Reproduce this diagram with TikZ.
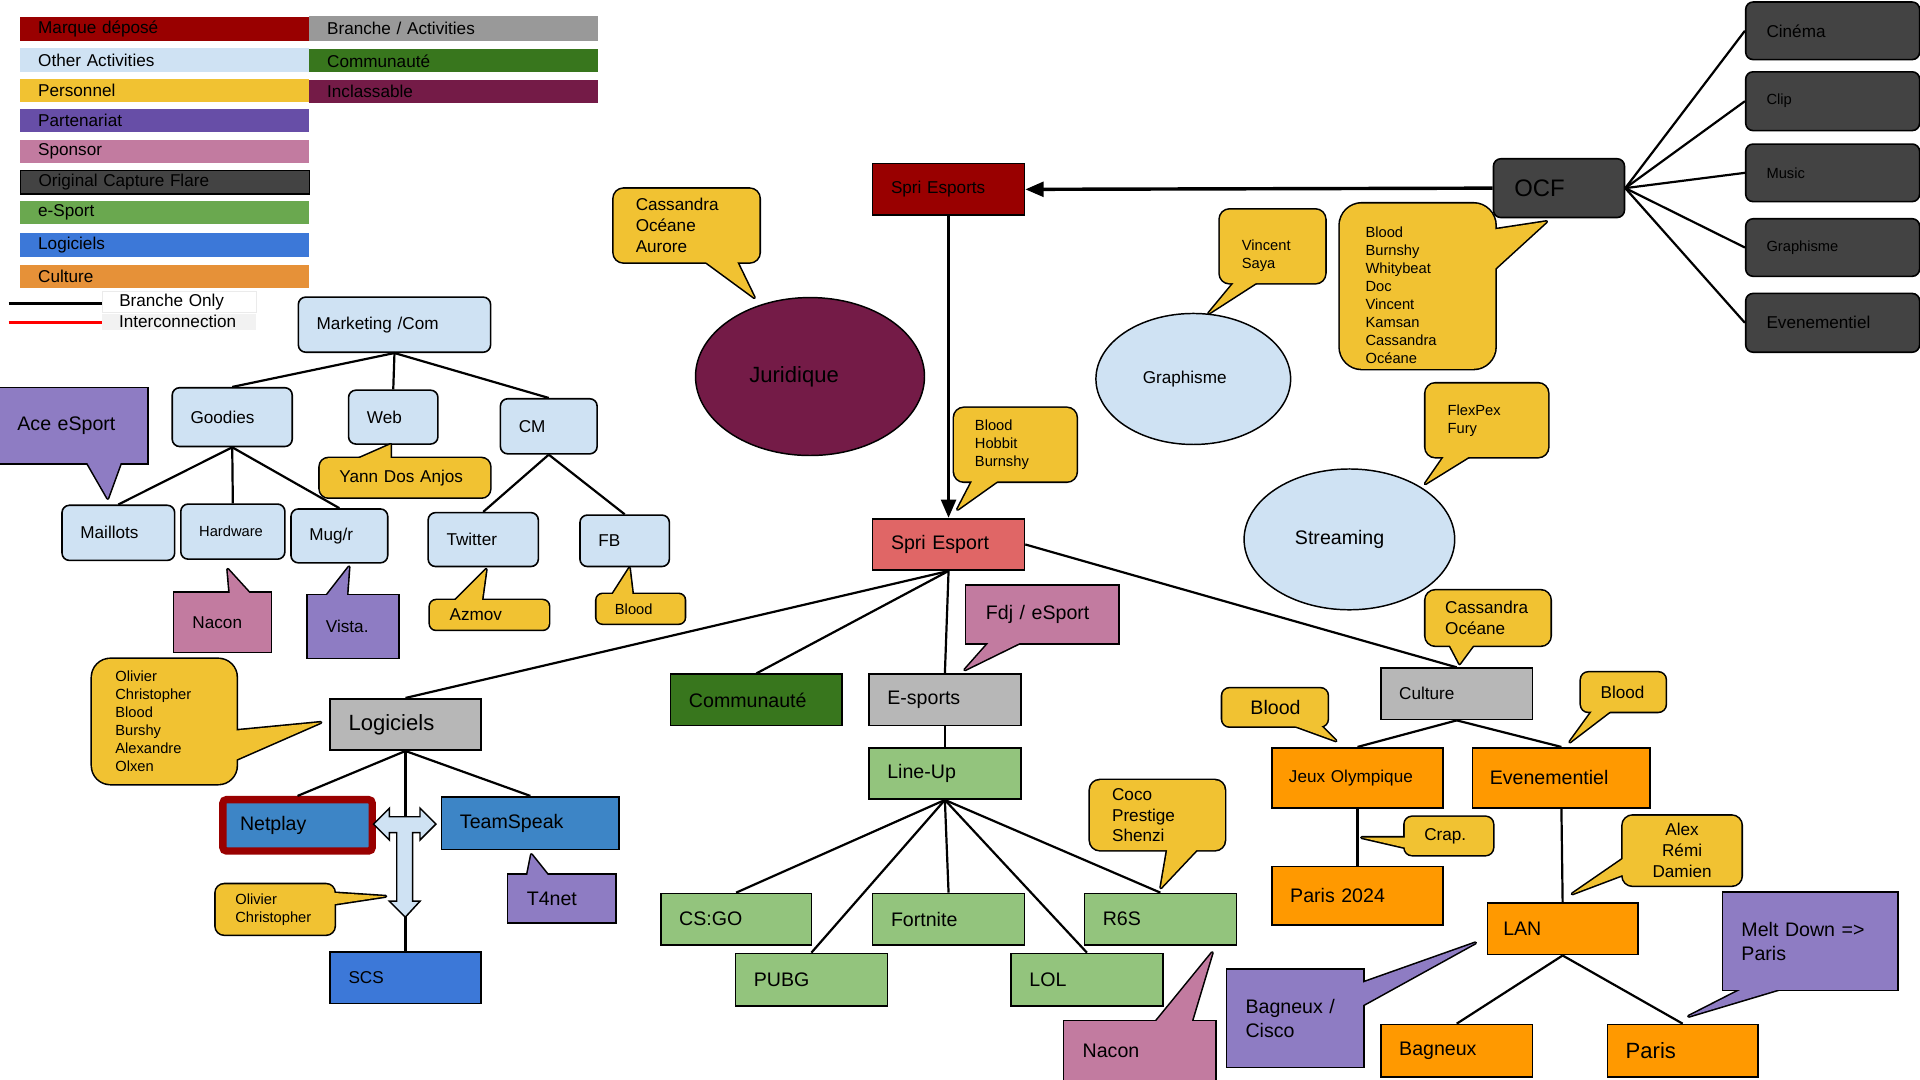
\documentclass[tikz,border=0pt]{standalone}
\usepackage{fontspec}
\setmainfont{Liberation Sans}
\usetikzlibrary{shapes.geometric,arrows.meta}

\definecolor{mdred}{HTML}{990000}
\definecolor{otherbl}{HTML}{CFE2F3}
\definecolor{persy}{HTML}{F1C232}
\definecolor{partlg}{HTML}{674EA7}
\definecolor{part}{HTML}{8E7CC3}
\definecolor{spons}{HTML}{C27BA0}
\definecolor{ocfgr}{HTML}{434343}
\definecolor{esplg}{HTML}{6AA84F}
\definecolor{esp}{HTML}{93C47D}
\definecolor{logilg}{HTML}{3C78D8}
\definecolor{logi}{HTML}{3D85C6}
\definecolor{cultlg}{HTML}{E69138}
\definecolor{cult}{HTML}{FF9900}
\definecolor{brlg}{HTML}{999999}
\definecolor{br}{HTML}{B7B7B7}
\definecolor{comm}{HTML}{38761D}
\definecolor{incl}{HTML}{741B47}
\definecolor{spri}{HTML}{E06666}

\newcommand{\bulle}[6]{%
  \filldraw[fill=#2, line width=2.6pt, line join=round] #5 -- cycle;
  \node[note, fill=#2, #3] (#1) at #4 {#6};
  \fill[#2] #5 -- cycle;}

\begin{document}
\begin{tikzpicture}[x=1pt, y=-1pt,
  f12/.style={font=\fontsize{12}{14.7}\selectfont},
  f14/.style={font=\fontsize{14}{17}\selectfont},
  f16/.style={font=\fontsize{16}{20}\selectfont},
  f18/.style={font=\fontsize{18}{22}\selectfont},
  f19/.style={font=\fontsize{19.5}{23}\selectfont},
  box/.style={draw, line width=1.3pt, anchor=north west, inner xsep=15pt, inner ysep=0pt, align=left, f14},
  rbox/.style={box, rounded corners=6pt},
  leg/.style={anchor=north west, inner xsep=15pt, inner ysep=0pt, minimum height=19pt, text width=206pt, align=left, f14},
  note/.style={anchor=north west, inner xsep=15pt, inner ysep=0pt, align=left, f14, preaction={draw, line width=2.6pt}},
  bulb/.style={ellipse, draw, line width=1.2pt, f14},
  link/.style={line width=1.8pt},
  fleche/.style={line width=2.8pt, -{Triangle[length=15pt,width=12pt]}}]

\path[use as bounding box, fill=white] (0,0) rectangle (1568,882);

\node[leg, fill=mdred] (lgMarque) at (16,14) {Marque déposé};
\node[leg, fill=otherbl, minimum height=20pt] (lgOther) at (16,39) {Other Activities};
\node[leg, fill=persy] (lgPerso) at (16,64) {Personnel};
\node[leg, fill=partlg] (lgPart) at (16,89) {Partenariat};
\node[leg, fill=spons] (lgSpons) at (16,114) {Sponsor};
\node[leg, fill=ocfgr, draw, line width=1pt] (lgOcf) at (16,139) {Original Capture Flare};
\node[leg, fill=esplg] (lgEsport) at (16,164) {e-Sport};
\node[leg, fill=logilg, minimum height=20pt] (lgLogi) at (16,190) {Logiciels};
\node[leg, fill=cultlg] (lgCult) at (16,216) {Culture};
\node[leg, fill=brlg, minimum height=20pt] (lgBranche) at (252,13) {Branche / Activities};
\node[leg, fill=comm] (lgComm) at (252,40) {Communauté};
\node[leg, fill=incl] (lgIncl) at (252,65) {Inclassable};

\node[leg, text width=98pt, inner xsep=14pt, minimum height=17pt, fill=white, draw=black!8, line width=0.8pt] (lgOnly) at (83,238) {Branche Only};
\node[leg, text width=98pt, inner xsep=14pt, minimum height=13pt, fill=black!5] (lgInter) at (83,256) {Interconnection};
\coordinate (lgB) at (7,248);
\coordinate (lgR) at (7,263);
\draw[line width=2.5pt] (lgB) -- (lgB -| lgOnly.west);
\draw[line width=2.5pt, red] (lgR) -- (lgR -| lgInter.west);

\node[rbox, fill=otherbl, text width=127pt, minimum height=45pt] (mkt) at (243,242) {Marketing /Com};
\node[rbox, fill=otherbl, text width=68pt, minimum height=48pt] (goodies) at (140,316) {Goodies};
\node[rbox, fill=otherbl, text width=43pt, minimum height=44pt] (web) at (284,318) {Web};
\node[rbox, fill=otherbl, text width=49pt, minimum height=45pt] (cm) at (408,325) {CM};
\node[rbox, fill=otherbl, text width=62pt, minimum height=45pt] (maillots) at (50,412) {Maillots};
\node[rbox, fill=otherbl, text width=55pt, minimum height=45pt, f12] (hardware) at (147,411) {Hardware};
\node[rbox, fill=otherbl, text width=49pt, minimum height=44pt] (mugr) at (237,415) {Mug/r};
\node[rbox, fill=otherbl, text width=60pt, minimum height=44pt] (twitter) at (349,418) {Twitter};
\node[rbox, fill=otherbl, text width=43pt, minimum height=42pt] (fb) at (473,420) {FB};

\node[box, fill=br, text width=93pt, minimum height=42pt, f18] (logiciels) at (269,570) {Logiciels};
\node[box, fill=logi, draw=mdred, line width=6pt, rounded corners=3pt, inner xsep=14pt, text width=94pt, minimum height=42pt, f16] (netplay) at (179,650) {Netplay};
\node[box, fill=logi, text width=115pt, minimum height=43pt, f16] (teamspeak) at (360,650) {TeamSpeak};
\node[box, fill=logilg, text width=93pt, minimum height=42pt] (scs) at (269,777) {SCS};

\node[box, fill=mdred, text width=94pt, minimum height=42pt] (spriesports) at (712,133) {Spri Esports};
\node[box, fill=spri, text width=94pt, minimum height=42pt, f16] (spriesport) at (712,423) {Spri Esport};

\node[rbox, fill=ocfgr, inner xsep=17pt, text width=73pt, minimum height=48pt, f19] (ocf) at (1219,129) {OCF};
\node[rbox, fill=ocfgr, inner xsep=17pt, text width=108pt, minimum height=47pt] (cinema) at (1425,1) {Cinéma};
\node[rbox, fill=ocfgr, inner xsep=17pt, text width=108pt, minimum height=48pt, f12] (clip) at (1425,58) {Clip};
\node[rbox, fill=ocfgr, inner xsep=17pt, text width=108pt, minimum height=47pt, f12] (music) at (1425,117) {Music};
\node[rbox, fill=ocfgr, inner xsep=17pt, text width=108pt, minimum height=47pt, f12] (graphocf) at (1425,178) {Graphisme};
\node[rbox, fill=ocfgr, inner xsep=17pt, text width=108pt, minimum height=48pt] (eventocf) at (1425,239) {Evenementiel};

\node[box, fill=comm, text width=110pt, minimum height=42pt, f16] (communaute) at (547,550) {Communauté};
\node[box, fill=br, text width=94pt, minimum height=42pt, f16] (esports) at (709,550) {E-sports};
\node[box, fill=esp, text width=94pt, minimum height=42pt, f16] (lineup) at (709,610) {Line-Up};
\node[box, fill=esp, text width=93pt, minimum height=42pt, f16] (csgo) at (539,729) {CS:GO};
\node[box, fill=esp, text width=94pt, minimum height=42pt, f16] (fortnite) at (712,729) {Fortnite};
\node[box, fill=esp, text width=94pt, minimum height=42pt, f16] (r6s) at (885,729) {R6S};
\node[box, fill=esp, text width=94pt, minimum height=43pt, f16] (pubg) at (600,778) {PUBG};
\node[box, fill=esp, text width=94pt, minimum height=43pt, f16] (lol) at (825,778) {LOL};

\node[box, fill=br, text width=94pt, minimum height=42pt] (culture) at (1127,545) {Culture};
\node[box, fill=cult, inner xsep=14pt, text width=112pt, minimum height=49pt] (jeux) at (1038,610) {Jeux Olympique};
\node[box, fill=cult, inner xsep=14pt, text width=117pt, minimum height=49pt, f16] (evenement) at (1202,610) {Evenementiel};
\node[box, fill=cult, text width=110pt, minimum height=48pt, f16] (paris24) at (1038,707) {Paris 2024};
\node[box, fill=cult, inner xsep=13pt, text width=97pt, minimum height=42pt, f16] (lan) at (1214,737) {LAN};
\node[box, fill=cult, text width=94pt, minimum height=43pt, f16] (bagneux) at (1127,836) {Bagneux};
\node[box, fill=cult, text width=93pt, minimum height=43pt, f18] (paris) at (1312,836) {Paris};

\node[bulb, fill=incl, minimum width=187pt, minimum height=129pt, f18] (juridique) at (661.5,307.5) {Juridique\rule{26pt}{0pt}};
\node[bulb, fill=otherbl, minimum width=159pt, minimum height=107pt] (graphisme) at (974.5,309.5) {Graphisme\rule{14pt}{0pt}};
\node[bulb, fill=otherbl, minimum width=172pt, minimum height=115pt, f16] (streaming) at (1102,440.5) {Streaming\rule{16pt}{0pt}};

\draw[link] (mkt.south) -- (goodies.north);
\draw[link] (mkt.south) -- (web.north);
\draw[link] (mkt.south) -- (cm.north);
\foreach \g in {maillots,hardware,mugr} \draw[link] (goodies.south) -- (\g.north);
\draw[link] (cm.south) -- (twitter.north);
\draw[link] (cm.south) -- (fb.north);
\draw[link] (logiciels.south) -- (netplay.north);
\draw[link] (logiciels.south) -- (teamspeak.north);
\draw[link] (logiciels.south) -- (scs.north);
\draw[fleche] (spriesports.south) -- (spriesport.north);
\draw[fleche] (ocf.west) -- (spriesports.east);
\foreach \o in {cinema,clip,music,graphocf,eventocf} \draw[link] (ocf.east) -- (\o.west);
\draw[link] (spriesport.south) -- (logiciels.north);
\draw[link] (spriesport.south) -- (communaute.north);
\draw[link] (spriesport.south) -- (esports.north);
\draw[link] (spriesport.east) -- (culture.north);
\draw[link] (esports.south) -- (lineup.north);
\foreach \g in {csgo,pubg,fortnite,lol,r6s} \draw[link] (lineup.south) -- (\g.north);
\draw[link] (culture.south) -- (jeux.north);
\draw[link] (culture.south) -- (evenement.north);
\draw[link] (jeux.south) -- (paris24.north);
\draw[link] (evenement.south) -- (lan.north);
\draw[link] (lan.south) -- (bagneux.north);
\draw[link] (lan.south) -- (paris.north);

\draw[fill=otherbl, line width=1.2pt] (305,673) -- (318,660) -- (318,667) -- (343,667) -- (343,660) -- (356,673) -- (343,686) -- (343,680) -- (337,680) -- (337,736) -- (343,736) -- (331,749) -- (318,736) -- (324,736) -- (324,680) -- (318,680) -- (318,686) -- cycle;

\bulle{ace}{part}{f16, inner xsep=14pt, text width=92pt, minimum height=61pt}{(0,317)}{(69,374) -- (88,407) -- (100,374)}{Ace eSport}
\bulle{yann}{persy}{rounded corners=7pt, inner xsep=16pt, text width=107pt, minimum height=32pt}{(261,374)}{(285,378) -- (319,363) -- (319,378)}{Yann Dos Anjos}
\bulle{nacona}{spons}{text width=49pt, minimum height=48pt}{(142,484)}{(188,488) -- (186,465) -- (207,488)}{Nacon}
\bulle{vista}{part}{text width=44pt, minimum height=51pt}{(251,486)}{(264,490) -- (285,463) -- (283,490)}{Vista.}
\bulle{azmov}{persy}{rounded corners=5pt, inner xsep=16pt, text width=65pt, minimum height=24pt}{(351,490)}{(368,494) -- (397,465) -- (393,494)}{Azmov}
\bulle{bloodfb}{persy}{rounded corners=5pt, f12, text width=42pt, minimum height=24pt}{(487,485)}{(498,489) -- (514,464) -- (517,489)}{Blood}
\bulle{olivlist}{persy}{rounded corners=15pt, f12, inner xsep=19pt, text width=80pt, minimum height=102pt}{(75,538)}{(189,597) -- (262,590) -- (189,622)}{Olivier\\Christopher\\Blood\\Burshy\\Alexandre\\Olxen}
\bulle{olivscs}{persy}{rounded corners=7pt, f12, inner xsep=16pt, text width=65pt, minimum height=41pt}{(176,722)}{(269,729) -- (315,732) -- (269,739)}{Olivier\\Christopher}
\bulle{tfournet}{part}{f16, text width=57pt, minimum height=39pt}{(415,714)}{(430,718) -- (434,698) -- (450,718)}{T4net}
\bulle{cassjur}{persy}{rounded corners=8pt, inner xsep=18pt, text width=83pt, minimum height=60pt}{(501,154)}{(571,210) -- (616,243) -- (600,210)}{Cassandra\\Océane\\Aurore}
\bulle{bhb}{persy}{rounded corners=8pt, f12, inner xsep=17pt, text width=66pt, minimum height=60pt}{(779,333)}{(820,389) -- (782,416) -- (796,389)}{Blood\\Hobbit\\Burnshy}
\bulle{vsaya}{persy}{rounded corners=8pt, f12, inner xsep=18pt, text width=50pt, minimum height=60pt}{(996,171)}{(1011,227) -- (987,256) -- (1032,227)}{\rule{0pt}{24pt}Vincent\\Saya}
\bulle{ocflist}{persy}{rounded corners=18pt, f12, inner xsep=21pt, text width=85pt, minimum height=135pt}{(1094,166)}{(1217,188) -- (1263,181) -- (1217,223)}{\rule{0pt}{23pt}Blood\\Burnshy\\Whitybeat\\Doc\\Vincent\\Kamsan\\Cassandra\\Océane}
\bulle{flex}{persy}{rounded corners=8pt, f12, inner xsep=18pt, text width=64pt, minimum height=60pt}{(1164,313)}{(1182,369) -- (1164,395) -- (1206,369)}{FlexPex\\Fury}
\bulle{casscult}{persy}{rounded corners=8pt, inner xsep=16pt, text width=70pt, minimum height=45pt}{(1164,482)}{(1182,523) -- (1192,542) -- (1206,523)}{Cassandra\\Océane}
\bulle{fdj}{spons}{f16, inner xsep=16pt, text width=92pt, minimum height=47pt}{(789,478)}{(811,521) -- (788,547) -- (841,521)}{Fdj / eSport}
\bulle{coco}{persy}{rounded corners=8pt, inner xsep=18pt, text width=74pt, minimum height=57pt}{(890,637)}{(954,690) -- (948,725) -- (981,690)}{Coco\\Prestige\\Shenzi}
\bulle{naconb}{spons}{f16, text width=93pt, minimum height=48pt}{(869,834)}{(941,838) -- (990,778) -- (972,838)}{Nacon}
\bulle{bloodjo}{persy}{rounded corners=6pt, f16, inner xsep=23pt, text width=40pt, minimum height=31pt}{(998,562)}{(1047,589) -- (1091,605) -- (1075,589)}{Blood}
\bulle{bloodev}{persy}{rounded corners=6pt, inner xsep=16pt, text width=37pt, minimum height=32pt}{(1291,549)}{(1303,577) -- (1282,606) -- (1320,577)}{Blood}
\bulle{crap}{persy}{rounded corners=6pt, inner xsep=16pt, text width=40pt, minimum height=31pt}{(1147,667)}{(1151,684) -- (1112,684) -- (1151,693)}{Crap.}
\bulle{alex}{persy}{rounded corners=8pt, align=center, inner xsep=10pt, text width=77pt, minimum height=57pt}{(1325,666)}{(1329,699) -- (1284,730) -- (1329,713)}{Alex\\Rémi\\Damien}
\bulle{melt}{part}{f16, text width=112pt, minimum height=79pt}{(1407,729)}{(1430,804) -- (1379,830) -- (1466,804)}{Melt Down =>\\Paris}
\bulle{cisco}{part}{f16, text width=81pt, minimum height=79pt}{(1002,792)}{(1109,804) -- (1205,770) -- (1109,823)}{Bagneux /\\Cisco}

\end{tikzpicture}
\end{document}
